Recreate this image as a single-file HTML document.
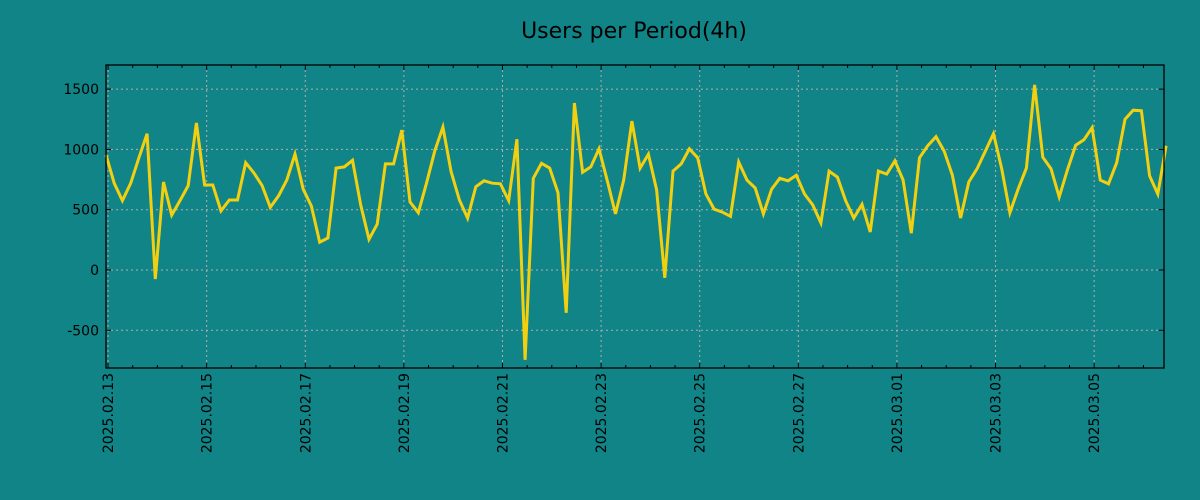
<!DOCTYPE html>
<html><head><meta charset="utf-8"><style>
body{margin:0;background:#118487;}
svg{display:block;font-family:"DejaVu Sans","Liberation Sans",sans-serif;}
</style></head><body>
<svg id="chart" width="1200" height="500">
<rect width="1200" height="500" fill="#118487"/>
<text x="634" y="38" text-anchor="middle" font-size="22" fill="#000">Users per Period(4h)</text>
<g id="grid"></g><g id="axes"></g><g id="series"></g>
<rect x="106" y="65" width="1058" height="303" fill="none" stroke="#000" stroke-width="1.3"/>
</svg>
<script>
const startHour = -1;
const stepHours = 4;
const values = [955,720,575,720,930,1130,-75,730,455,575,700,1220,705,705,490,580,580,890,805,700,520,615,745,960,670,530,230,265,845,855,910,540,255,380,880,880,1160,565,475,720,985,1185,815,580,430,690,740,720,715,575,1085,-745,760,885,845,640,-355,1385,810,855,1005,740,465,745,1235,845,960,665,-65,820,880,1005,930,630,505,480,445,895,745,680,465,670,760,740,785,630,540,390,820,770,575,430,545,315,820,795,905,745,305,930,1030,1105,985,785,430,730,840,985,1130,840,475,670,845,1535,935,840,605,830,1035,1080,1180,745,715,890,1250,1325,1320,780,630,1030];
const yTicks = [-500,0,500,1000,1500];
const xTickLabels = ["2025.02.13","2025.02.15","2025.02.17","2025.02.19","2025.02.21","2025.02.23","2025.02.25","2025.02.27","2025.03.01","2025.03.03","2025.03.05"];

const L=106,R=1164,T=65,B=368;
const hMin=-1, hMax=514;
const vMin=-813, vMax=1700;
function xs(h){return L+(h-hMin)/(hMax-hMin)*(R-L);}
function ys(v){return B-(v-vMin)/(vMax-vMin)*(B-T);}
const NS="http://www.w3.org/2000/svg";
function mk(tag,attrs,parent){const e=document.createElementNS(NS,tag);for(const k in attrs)e.setAttribute(k,attrs[k]);parent.appendChild(e);return e;}
const grid=document.getElementById('grid'),axes=document.getElementById('axes'),series=document.getElementById('series');

yTicks.forEach(v=>{
  const y=ys(v);
  const g=mk('line',{x1:L,x2:R,y1:y,y2:y,stroke:'#b0b0b0','stroke-dasharray':'2,3','stroke-width':1},grid);
  
  
  const t1=mk('line',{x1:L,x2:L+5,y1:y,y2:y,stroke:'#000'},axes);
  
  
  const t2=mk('line',{x1:R-5,x2:R,y1:y,y2:y,stroke:'#000'},axes);
  
  
  const lb=mk('text',{x:L-7,y:y+5,'text-anchor':'end','font-size':14,fill:'#000'},axes);
  lb.textContent=String(v);
  
  
});
for(let h=0;h<=hMax;h+=12){
  const x=xs(h);const major=(h%48===0);
  const len=major?5:3;
  const a=mk('line',{x1:x,x2:x,y1:B-len,y2:B,stroke:'#000'},axes);
  
  
  const b=mk('line',{x1:x,x2:x,y1:T,y2:T+len,stroke:'#000'},axes);
  
  
}
xTickLabels.forEach((s,i)=>{
  const x=xs(i*48);
  const g=mk('line',{x1:x,x2:x,y1:T,y2:B,stroke:'#b0b0b0','stroke-dasharray':'2,3','stroke-width':1},grid);
  
  
  const t=mk('text',{x:0,y:0,'text-anchor':'end','font-size':14,fill:'#000',transform:`translate(${x+5},373) rotate(-90)`},axes);
  t.textContent=s;
  
  
});
const pts=values.map((v,i)=>xs(startHour+i*stepHours).toFixed(1)+','+ys(v).toFixed(1)).join(' ');
const line=mk('polyline',{points:pts,fill:'none',stroke:'#f2d00f','stroke-width':3,'stroke-linejoin':'miter'},series);


</script>
</body></html>
